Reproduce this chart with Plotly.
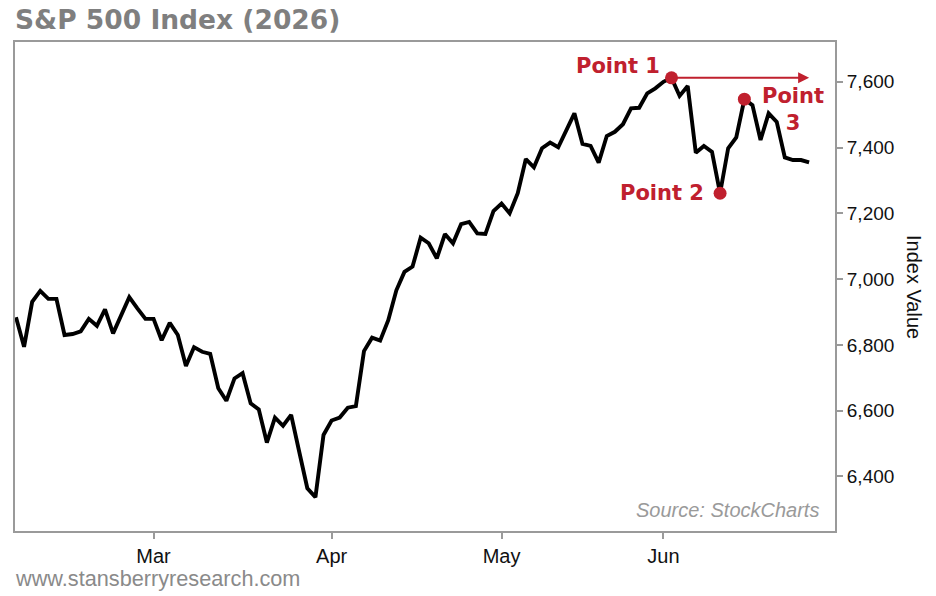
import pandas as pd
import plotly.graph_objects as go

# ---- data ----
index_values = [
    6884, 6794, 6931, 6964, 6940, 6940, 6830, 6833, 6841, 6879,
    6858, 6908, 6835, 6889, 6945, 6911, 6879, 6879, 6814, 6867,
    6830, 6736, 6793, 6779, 6773, 6668, 6630, 6698, 6714, 6622,
    6604, 6503, 6579, 6554, 6587, 6475, 6364, 6337, 6526, 6570,
    6579, 6609, 6614, 6781, 6822, 6813, 6875, 6966, 7022, 7038,
    7126, 7109, 7063, 7137, 7109, 7167, 7174, 7139, 7137, 7207,
    7230, 7200, 7261, 7365, 7340, 7398, 7415, 7401, 7450, 7504,
    7411, 7405, 7354, 7435, 7448, 7471, 7519, 7521, 7565, 7580,
    7600, 7612, 7557, 7587, 7384, 7405, 7387, 7261, 7398, 7431,
    7547, 7529, 7423, 7504, 7478, 7370, 7362, 7362, 7355,
]
market_holidays = ["2026-02-16", "2026-04-03", "2026-05-25", "2026-06-19"]
trading_days = [d.strftime("%Y-%m-%d") for d in
                pd.bdate_range("2026-02-04", "2026-06-26", freq="C",
                               holidays=market_holidays)]
month_labels = ["Mar", "Apr", "May", "Jun"]
month_starts = ["2026-03", "2026-04", "2026-05", "2026-06"]
y_ticks = [6400, 6600, 6800, 7000, 7200, 7400, 7600]

point_names = ["Point 1", "Point 2", "Point 3"]
point_dates = ["2026-06-02", "2026-06-10", "2026-06-15"]

# ---- derived ----
n = min(len(trading_days), len(index_values))
trading_days = trading_days[:n]
index_values = index_values[:n]
tickvals = [next(d for d in trading_days if d.startswith(m)) for m in month_starts]
point_values = [index_values[trading_days.index(d)] for d in point_dates]

RED = "#c0202e"
GRAY_LINE = "#9a9a9a"

fig = go.Figure()
fig.add_trace(go.Scatter(
    x=trading_days, y=index_values, mode="lines",
    line=dict(color="#000000", width=3.9), hoverinfo="skip",
))
fig.add_trace(go.Scatter(
    x=point_dates, y=point_values, mode="markers",
    marker=dict(color=RED, size=13), cliponaxis=False, hoverinfo="skip",
))

PX_W = 820.0
PX_H = 489.0


def px_x(px):
    return (px - 15) / PX_W


def px_y(py):
    return (531 - py) / PX_H


annotations = [
    # arrow from Point 1 to the right
    dict(x=trading_days[-1], y=point_values[0], ax=point_dates[0], ay=point_values[0],
         xref="x", yref="y", axref="x", ayref="y", text="", showarrow=True,
         arrowhead=2, arrowsize=1.1, arrowwidth=2, arrowcolor=RED),
    dict(x=point_dates[0], y=point_values[0], xref="x", yref="y", text=point_names[0],
         showarrow=False, xanchor="right", yanchor="middle", xshift=-10, yshift=12,
         font=dict(family="DejaVu Sans", size=21, color=RED, weight="bold")),
    dict(x=point_dates[1], y=point_values[1], xref="x", yref="y", text=point_names[1],
         showarrow=False, xanchor="right", yanchor="middle", xshift=-14, yshift=0,
         font=dict(family="DejaVu Sans", size=21, color=RED, weight="bold")),
    dict(x=point_dates[2], y=point_values[2], xref="x", yref="y",
         text=point_names[2].replace(" ", "<br>"),
         showarrow=False, xanchor="center", yanchor="middle", xshift=49, yshift=-10,
         align="center",
         font=dict(family="DejaVu Sans", size=21, color=RED, weight="bold")),
    # title
    dict(x=px_x(13), y=px_y(20), xref="paper", yref="paper", text="S&P 500 Index (2026)",
         showarrow=False, xanchor="left", yanchor="middle",
         font=dict(family="DejaVu Sans", size=26.5, color="#7f7f7f", weight="bold")),
    # y axis title
    dict(x=px_x(914), y=px_y(287), xref="paper", yref="paper", text="Index Value",
         showarrow=False, textangle=90, xanchor="center", yanchor="middle",
         font=dict(family="Liberation Sans", size=20, color="#111111")),
    # source
    dict(x=px_x(821), y=px_y(510), xref="paper", yref="paper", text="Source: StockCharts",
         showarrow=False, xanchor="right", yanchor="middle",
         font=dict(family="Liberation Sans", size=20, color="#9a9a9a", style="italic")),
    # footer
    dict(x=px_x(13), y=px_y(578), xref="paper", yref="paper",
         text="www.stansberryresearch.com",
         showarrow=False, xanchor="left", yanchor="middle",
         font=dict(family="Liberation Sans", size=21.7, color="#8a8a8a")),
]

fig.update_layout(
    width=936, height=596,
    margin=dict(l=15, r=101, t=42, b=65, autoexpand=False),
    paper_bgcolor="white", plot_bgcolor="white",
    showlegend=False,
    font=dict(family="Liberation Sans", color="#111111"),
    annotations=annotations,
    xaxis=dict(
        type="category", range=[-0.12, 101.2],
        tickmode="array", tickvals=tickvals, ticktext=month_labels,
        ticks="outside", ticklen=6, tickwidth=1.5, tickcolor=GRAY_LINE,
        showline=True, linecolor=GRAY_LINE, linewidth=2, mirror=True,
        showgrid=False, zeroline=False,
        tickfont=dict(family="Liberation Sans", size=20, color="#111111"),
    ),
    yaxis=dict(
        side="right", range=[6234, 7721],
        tickmode="array", tickvals=y_ticks, tickformat=",d",
        ticks="outside", ticklen=6, tickwidth=1.5, tickcolor=GRAY_LINE,
        showline=True, linecolor=GRAY_LINE, linewidth=2, mirror=True,
        showgrid=False, zeroline=False,
        tickfont=dict(family="Liberation Sans", size=19, color="#111111"),
    ),
)

fig.write_html("out.html")
